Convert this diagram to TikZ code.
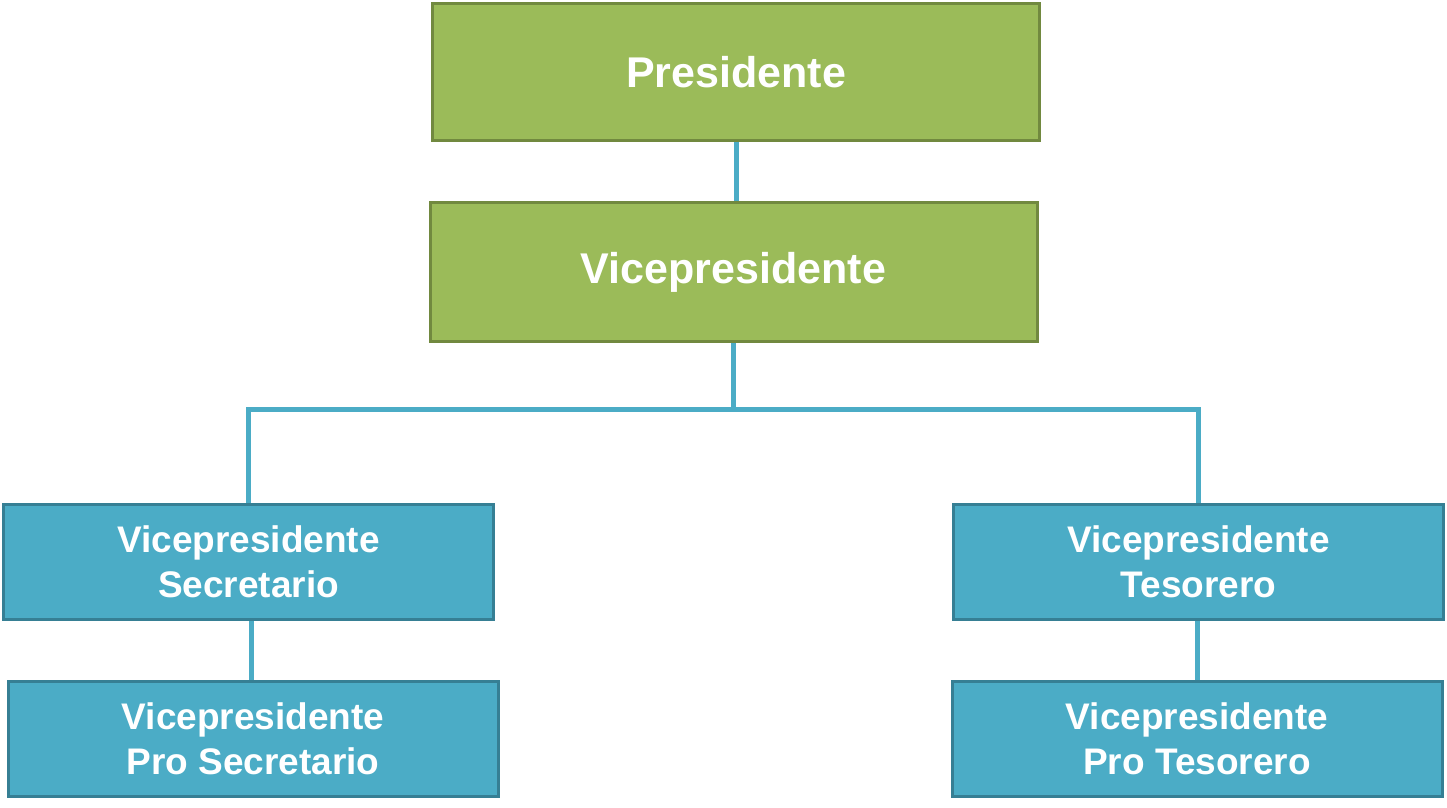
\documentclass[tikz,border=0pt]{standalone}
\usepackage{fontspec}
\setmainfont{Liberation Sans}
\usepackage{xcolor}
\usetikzlibrary{positioning}
\definecolor{boxgreen}{HTML}{9BBB59}
\definecolor{edgegreen}{HTML}{71893F}
\definecolor{boxblue}{HTML}{4BACC6}
\definecolor{edgeblue}{HTML}{367F94}
\definecolor{linkblue}{HTML}{4BACC6}
\tikzset{
  link/.style    = {draw=linkblue, line width=5pt},
  box/.style     = {draw, line width=3pt, align=center, inner sep=0pt, text=white},
  topbox/.style  = {box, fill=boxgreen, draw=edgegreen, minimum width=607pt, minimum height=137pt,
                    font=\fontsize{43}{50}\selectfont\bfseries},
  subbox/.style  = {box, fill=boxblue, draw=edgeblue, minimum width=490pt, minimum height=115pt,
                    font=\fontsize{37}{45}\selectfont\bfseries},
}
\begin{document}
\begin{tikzpicture}[x=1pt, y=-1pt, node distance=59pt]
  \useasboundingbox (0,0) rectangle (1447,807);
  \node[topbox] (pres) at (736,72) {Presidente};
  \node[topbox, below=of pres, xshift=-2.5pt, minimum height=139pt] (vice) {Vicepresidente};
  \node[subbox] (vsec) at (248.5,562) {Vicepresidente\\Secretario};
  \node[subbox] (vtes) at (1198.5,562) {Vicepresidente\\Tesorero};
  \node[subbox, below=of vsec, xshift=4.5pt] (vpsec) {Vicepresidente\\Pro Secretario};
  \node[subbox, below=of vtes, xshift=-1.5pt] (vptes) {Vicepresidente\\Pro Tesorero};
  \coordinate[below=66pt of vice.south] (split);
  \draw[link] (pres.south) -- (pres.south |- vice.north);
  \draw[link] (vice.south) -- (split);
  \draw[link] (split) -| (vsec.north);
  \draw[link] (split) -| (vtes.north);
  \draw[link] (vsec.south) ++(2.5,0) -- (vpsec.north -| 251,0);
  \draw[link] (vtes.south) ++(-1.5,0) -- (vptes.north);
\end{tikzpicture}
\end{document}
